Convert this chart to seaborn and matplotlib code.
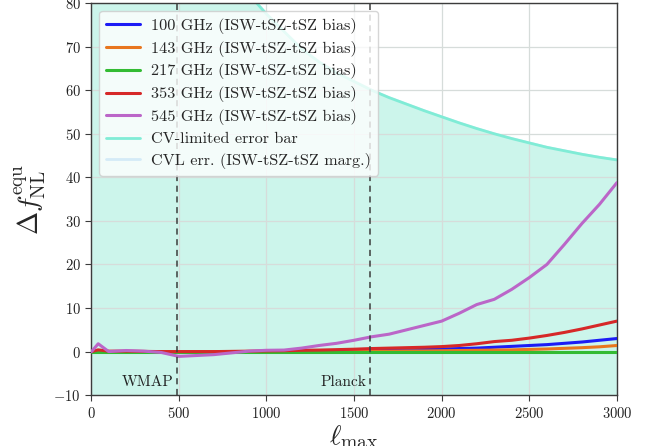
import numpy as np
import pandas as pd
import matplotlib
matplotlib.use("Agg")
import matplotlib.pyplot as plt
import seaborn as sns

# multipole grid
ell = [2, 40, 100, 200, 300, 400, 500, 600, 700, 800, 900, 1000, 1100, 1200,
       1300, 1400, 1500, 1600, 1700, 1800, 1900, 2000, 2100, 2200, 2300, 2400,
       2500, 2600, 2700, 2800, 2900, 3000]

# ISW-tSZ-tSZ bias on f_NL^equ per frequency channel
bias_100 = [0.0, 0.1, 0.0, 0.0, 0.0, 0.0, 0.0, 0.0, 0.0, 0.0, 0.0, 0.0, 0.05, 0.1,
            0.15, 0.2, 0.3, 0.35, 0.4, 0.45, 0.5, 0.6, 0.7, 0.8, 1.0, 1.2,
            1.4, 1.6, 1.9, 2.2, 2.6, 3.0]
bias_143 = [0.0, 0.05, 0.0, 0.0, 0.0, 0.0, 0.0, 0.0, 0.0, 0.0, 0.0, 0.0, 0.0, 0.0,
            0.0, 0.05, 0.05, 0.1, 0.1, 0.15, 0.15, 0.2, 0.25, 0.3, 0.35, 0.4,
            0.5, 0.6, 0.75, 0.9, 1.1, 1.4]
bias_217 = [0.0] * 32
bias_353 = [0.0, 0.4, 0.1, 0.1, 0.05, 0.0, 0.0, 0.0, 0.0, 0.05, 0.1, 0.15, 0.2, 0.3,
            0.35, 0.45, 0.55, 0.7, 0.8, 0.9, 1.0, 1.15, 1.4, 1.8, 2.3, 2.6,
            3.1, 3.7, 4.4, 5.2, 6.1, 7.0]
bias_545 = [0.0, 1.8, 0.0, 0.25, 0.1, -0.2, -1.1, -0.9, -0.7, -0.3, 0.1, 0.3, 0.35, 0.8,
            1.4, 1.9, 2.6, 3.4, 4.0, 5.0, 6.0, 7.0, 8.8, 10.8, 12.0, 14.3,
            17.0, 20.0, 24.6, 29.4, 33.8, 38.8]

# cosmic-variance-limited 1-sigma error on f_NL^equ
cv_err = [4000, 400, 300, 220, 160, 130, 112, 100, 92, 86, 82, 77.5, 73.5, 69.5,
          66.5, 64.0, 62.0, 60.0, 58.3, 56.8, 55.3, 53.9, 52.5, 51.2, 50.0, 48.9,
          47.9, 46.9, 46.1, 45.3, 44.6, 44.0]
cv_err_marg = [4000, 400, 300, 220, 160, 130, 112, 100, 92, 86, 82, 77.5, 73.5, 69.5,
               66.5, 64.0, 62.0, 60.0, 58.3, 56.8, 55.3, 53.9, 52.5, 51.2, 50.0, 48.9,
               47.9, 46.9, 46.1, 45.3, 44.6, 44.0]

channels = ["100 GHz", "143 GHz", "217 GHz", "353 GHz", "545 GHz"]
channel_bias = [bias_100, bias_143, bias_217, bias_353, bias_545]
channel_colors = ["#1c1cf5", "#e8761e", "#33bb33", "#d62828", "#bb66c8"]

experiments = ["WMAP", "Planck"]
experiment_lmax = [490, 1590]

sns.set_style("whitegrid")
plt.rcParams.update({
    "font.family": "cmr10",
    "mathtext.fontset": "cm",
    "axes.formatter.use_mathtext": True,
    "axes.edgecolor": "#3c3c3c",
    "axes.linewidth": 1.0,
    "grid.color": "#d6dcda",
    "grid.linewidth": 0.9,
    "xtick.bottom": True,
    "ytick.left": True,
    "xtick.major.size": 4,
    "ytick.major.size": 4,
    "xtick.color": "#3c3c3c",
    "ytick.color": "#3c3c3c",
    "xtick.labelcolor": "#222222",
    "ytick.labelcolor": "#222222",
    "axes.unicode_minus": True,
})

fig = plt.figure(figsize=(6.56, 4.46), dpi=100)
ax = fig.add_axes([0.139, 0.114, 0.8015, 0.879])

ell_arr = np.array(ell, dtype=float)
cv = np.array(cv_err)
cvm = np.array(cv_err_marg)

frame = pd.DataFrame({"ell": ell})
for name, vals in zip(channels, channel_bias):
    frame[name] = vals
long = frame.melt(id_vars="ell", var_name="channel", value_name="bias")
long["label"] = long["channel"] + " (ISW-tSZ-tSZ bias)"

sns.lineplot(data=long, x="ell", y="bias", hue="label",
             palette=channel_colors, linewidth=2.2, ax=ax, zorder=5,
             legend=True)

# error regions: marginalised band underneath, CV-limited band on top
ax.fill_between(ell_arr, -cvm, cvm, color="#dcefff", lw=0, zorder=1)
ax.fill_between(ell_arr, -cv, cv, color="#ccf5eb", lw=0, zorder=1.5)
sns.lineplot(x=ell, y=cv_err, color="#80ecd6", linewidth=2.0, ax=ax,
             label="CV-limited error bar", zorder=2)
sns.lineplot(x=ell, y=cv_err_marg, color="#d4ebf7", linewidth=2.0, ax=ax,
             label="CVL err. (ISW-tSZ-tSZ marg.)", zorder=1.2)

for name, lm in zip(experiments, experiment_lmax):
    ax.axvline(lm, color="#3c3c3c", ls=(0, (4, 3)), lw=1.1, zorder=6)
    ax.text(lm - 20, -8.6, name, ha="right", va="bottom", fontsize=11,
            color="#222222", zorder=7)

ax.set_xlim(0, 3000)
ax.set_ylim(-10, 80)
ax.set_xticks([0, 500, 1000, 1500, 2000, 2500, 3000])
ax.set_yticks([-10, 0, 10, 20, 30, 40, 50, 60, 70, 80])
ax.tick_params(labelsize=10.5)
ax.set_xlabel(r"$\ell_{\rm max}$", fontsize=20, labelpad=2)
ax.set_ylabel(r"$\Delta f_{\rm NL}^{\rm equ}$", fontsize=20, labelpad=4)
# grid sits above the shaded bands but below the curves
ax.xaxis.set_zorder(1.8)
ax.yaxis.set_zorder(1.8)

handles, labels = ax.get_legend_handles_labels()
leg = ax.legend(handles, labels, loc="upper left", fontsize=11.7,
                frameon=True, framealpha=0.8, edgecolor="#cccccc",
                borderaxespad=0.5, handlelength=2.1, handletextpad=0.7,
                labelspacing=0.42)
leg.set_zorder(10)

fig.savefig("out.png", dpi=100)
